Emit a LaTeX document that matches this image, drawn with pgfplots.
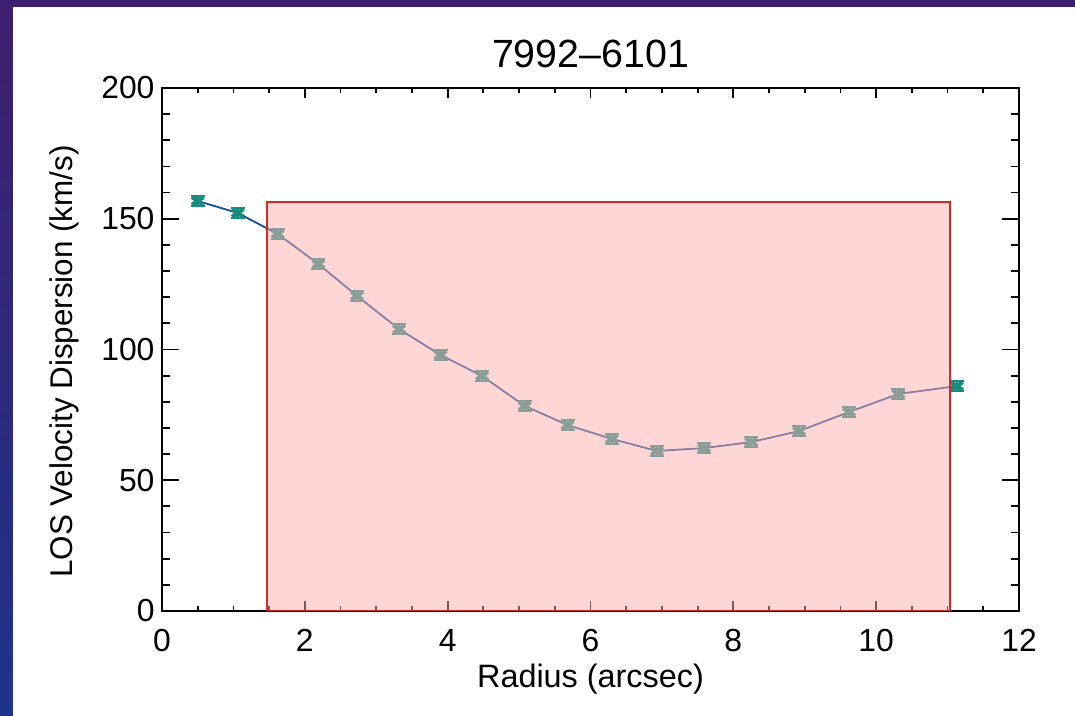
\documentclass[border=0pt]{standalone}
\usepackage{fontspec}
\setmainfont{Liberation Sans}
\usepackage{pgfplots}
\pgfplotsset{compat=1.18}
\definecolor{bgtop}{RGB}{62,30,110}
\definecolor{bgbot}{RGB}{30,52,138}
\definecolor{teal1}{RGB}{22,140,125}
\definecolor{line1}{RGB}{20,80,150}
\definecolor{pinkf}{RGB}{255,175,175}
\definecolor{redb}{RGB}{215,40,40}
\pgfplotsset{myframe/.style={at={(162bp,105bp)}, anchor=south west, scale only axis,
  width=857bp, height=523bp, xmin=0, xmax=12, ymin=0, ymax=200}}
\begin{document}
\begin{tikzpicture}
\shade[top color=bgtop, bottom color=bgbot] (0,0) rectangle (1075bp,716bp);
\fill[white] (13bp,0) rectangle (1075bp,709bp);
\begin{axis}[myframe,
  xtick={0,2,...,12}, ytick={0,50,...,200},
  minor x tick num=3, minor y tick num=4,
  tick align=inside,
  axis line style={line width=2.3bp},
  every tick/.style={black, line width=1.8bp},
  x tick style={/pgfplots/major tick length=10bp,/pgfplots/minor tick length=5bp},
  y tick style={/pgfplots/major tick length=17bp,/pgfplots/minor tick length=8bp},
  tick label style={font=\fontsize{32}{36}\selectfont},
  /pgf/number format/assume math mode=true,
  xticklabel style={yshift=-15bp},
  yticklabel style={xshift=-4bp},
  title={7992–6101},
  title style={font=\fontsize{39.5}{44}\selectfont, at={(axis description cs:0.5,1)}, anchor=base, yshift=15bp},
  xlabel={Radius (arcsec)},
  xlabel style={font=\fontsize{32.5}{37}\selectfont, at={(axis description cs:0.5,0)}, anchor=base, yshift=-76bp},
  ylabel={LOS Velocity Dispersion (km/s)},
  ylabel style={font=\fontsize{31.5}{36}\selectfont, at={(axis description cs:-0.1039,0.477)}, anchor=base},
]
\addplot[line1, line width=1.8bp, mark=x, mark size=5.5bp,
  mark options={teal1, line width=4bp, solid, xscale=1.5},
  error bars/.cd, y dir=both, y fixed=1.9,
  error bar style={teal1, line width=2.5bp},
  error mark options={rotate=90, teal1, line width=2.5bp, mark size=7bp}]
coordinates {
(0.50,156.8) (1.06,152.2) (1.62,144.2) (2.19,132.7) (2.73,120.5) (3.32,107.8)
(3.90,97.9) (4.48,89.9) (5.08,78.4) (5.68,71.1) (6.30,65.8) (6.93,61.2)
(7.59,62.3) (8.25,64.6) (8.92,68.8) (9.62,76.1) (10.31,83.0) (11.13,86.0)
};
\end{axis}
\begin{axis}[myframe, hide axis]
\addplot[draw=redb, line width=1.6bp, fill=pinkf, fill opacity=0.5, draw opacity=1, line join=miter]
coordinates {(1.47,0) (1.47,156.5) (11.03,156.5) (11.03,0) (1.47,0)};
\end{axis}
\pgfresetboundingbox
\path (0,0) rectangle (1075bp,716bp);
\end{tikzpicture}
\end{document}
